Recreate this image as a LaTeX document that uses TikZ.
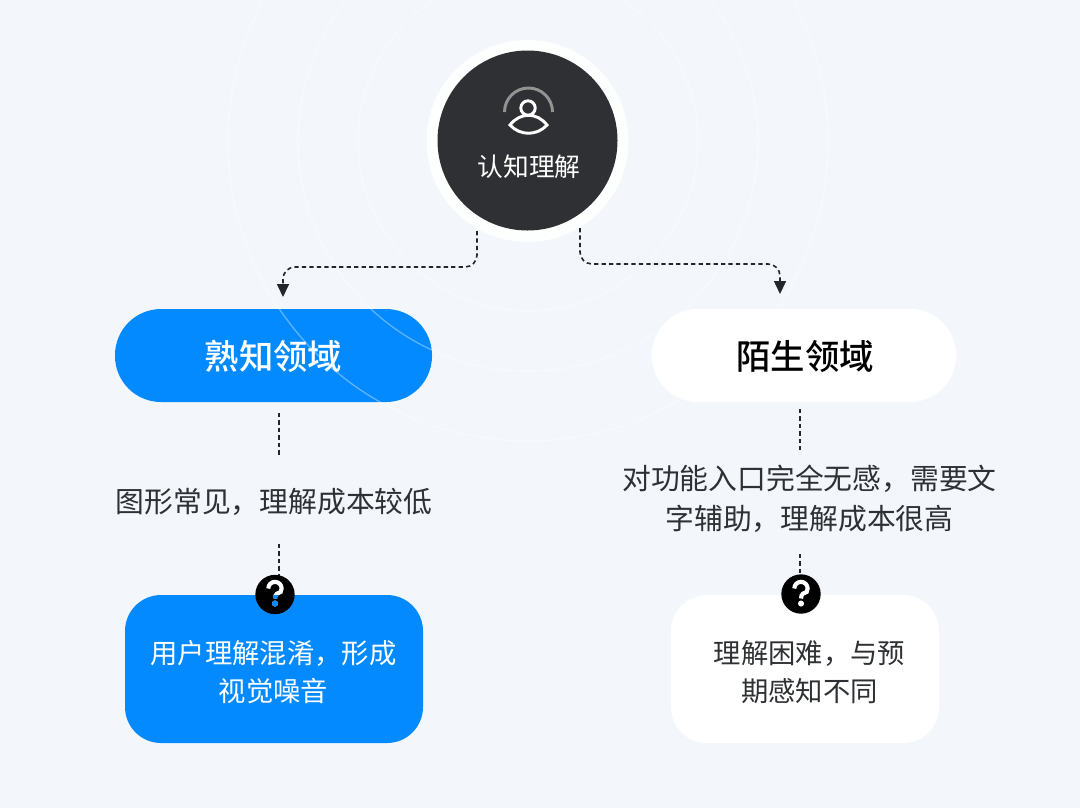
\documentclass[tikz,border=0pt]{standalone}
\usepackage{fontspec}
\setmainfont{Noto Sans CJK SC}
\newfontfamily\cjkmed{Noto Sans CJK SC Medium}
\usetikzlibrary{arrows.meta}
\definecolor{pagebg}{HTML}{F3F7FC}
\definecolor{brandblue}{HTML}{048AFF}
\definecolor{darkdisc}{HTML}{2F3033}
\definecolor{inkline}{HTML}{23262B}
\definecolor{bodytext}{HTML}{2E3033}
\tikzset{
  x=0.75pt,y=-0.75pt,
  ringline/.style={draw=white,line width=1pt,opacity=0.35,fill=none},
  pillbox/.style={inner sep=0pt,outer sep=0pt,rounded corners=34.5pt,minimum height=69.75pt},
  cardbox/.style={inner sep=0pt,outer sep=0pt,rounded corners=27pt,minimum height=111pt},
  pilltext/.style={font=\fontsize{25.8pt}{30pt}\selectfont\cjkmed,inner sep=0pt},
  bodylabel/.style={font=\fontsize{21.6pt}{30pt}\selectfont,text=bodytext,inner sep=0pt,align=center},
  cardtext/.style={font=\fontsize{20.5pt}{28.5pt}\selectfont,inner sep=0pt,align=center},
  dashlink/.style={draw=inkline,line width=1.2pt,dash pattern=on 3.2pt off 2.4pt},
  flowlink/.style={dashlink,rounded corners=9pt,-{Triangle[length=9.75pt,width=9pt,fill=inkline]}},
  iconline/.style={draw=white,line width=2.2pt,fill=none},
  helpdisc/.style={circle,fill=black,minimum size=29.5pt,inner sep=0pt,outer sep=0pt},
}
\newcommand{\helpglyph}[3]{%
  \draw[#3,line width=3.1pt,line cap=butt] (#1-6.7,#2-1.5) arc[start angle=180,end angle=-30,radius=5pt] .. controls (#1+3,#2+2.5) and (#1,#2+4) .. (#1,#2+8.5);
  \fill[#3] (#1,#2+13.5) circle[radius=2.3pt];
}
\begin{document}
\begin{tikzpicture}
\useasboundingbox (0,0) rectangle (1080,808);
\fill[pagebg] (0,0) rectangle (1080,808);

% boxes
\node[pillbox,fill=brandblue,minimum width=237.75pt] (familiar) at (273.5,355.5) {};
\node[pillbox,fill=white,minimum width=228pt] (strange) at (804,355.5) {};
\node[cardbox,fill=brandblue,minimum width=223.5pt] (cardA) at (274,669) {};
\node[cardbox,fill=white,minimum width=201pt] (cardB) at (805,669) {};

% faint rings
\begin{scope}
\clip (0,0) rectangle (1080,808);
\draw[ringline] (528,141) circle[radius=127.5pt];
\draw[ringline] (528,141) circle[radius=172.5pt];
\draw[ringline] (528,141) circle[radius=225pt];
\end{scope}

% central disc
\fill[white,opacity=0.9] (527.5,141) circle[radius=75.75pt];
\node[circle,fill=darkdisc,minimum size=135pt,inner sep=0pt,outer sep=0pt] (core) at (527.5,140.5) {};
\draw[draw=gray!85,line width=2.2pt] (504.5,112) arc[start angle=180,end angle=0,radius=18pt];
\draw[iconline] (528,108) circle[radius=5.4pt];
\draw[iconline] (510,125) .. controls (520,112) and (537,112) .. (547,125) .. controls (537,136) and (520,136) .. (510,125) -- cycle;
\node[font=\fontsize{19.3pt}{24pt}\selectfont,text=white,inner sep=0pt] (coretext) at (529,166.5) {认知理解};

% labels
\node[pilltext,text=white] (familiartext) at (273.5,356.5) {熟知领域};
\node[pilltext,text=black] (strangetext) at (805,356.5) {陌生领域};
\node[bodylabel] (labelA) at (274,501.5) {图形常见，理解成本较低};
\node[bodylabel] (labelB) at (809.5,498.5) {对功能入口完全无感，需要文\\字辅助，理解成本很高};
\node[cardtext,text=white] (cardAtext) at (273.5,672) {用户理解混淆，形成\\视觉噪音};
\node[cardtext,text=bodytext] (cardBtext) at (809.5,672) {理解困难，与预\\期感知不同};

% connectors
\coordinate (coreL) at (477,231);
\coordinate (coreR) at (580,228);
\coordinate (inL) at (283,297);
\coordinate (inR) at (780,294);
\draw[flowlink] (coreL) |- (283,267) -- (inL);
\draw[flowlink] (coreR) |- (780,264) -- (inR);

\coordinate (a1) at (279,413);
\coordinate (a2) at (279,455);
\coordinate (a3) at (279,544);
\coordinate (b1) at (800,409);
\coordinate (b2) at (800,450);
\coordinate (b3) at (800,554);
\draw[dashlink] (a1) -- (a2);
\draw[dashlink] (b1) -- (b2);

% help badges
\draw[dashlink] (a3) -- (a3 |- 0,577);
\draw[dashlink] (b3) -- (b3 |- 0,577);
\node[helpdisc] (helpA) at (275,594.5) {};
\node[helpdisc] (helpB) at (801,594) {};
\helpglyph{275}{590}{white}
\helpglyph{801}{590}{white}
\begin{scope}
\clip (250,595) rectangle (300,620);
\helpglyph{275}{590}{brandblue}
\end{scope}
\end{tikzpicture}
\end{document}
